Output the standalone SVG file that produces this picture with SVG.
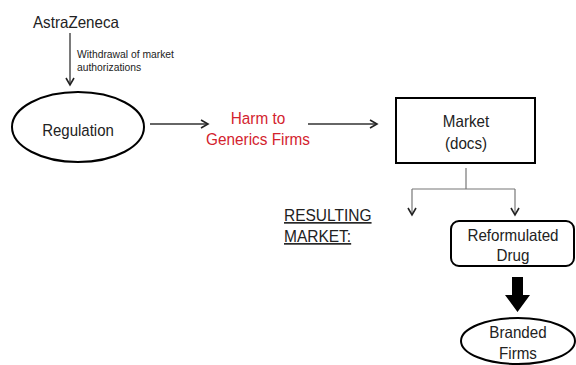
<svg xmlns="http://www.w3.org/2000/svg" width="576" height="365" viewBox="0 0 576 365">
<style>
text{font-family:"Liberation Sans",Arial,sans-serif;fill:#222;}
.t{font-size:16.5px;}
.s{font-size:11px;}
.c{text-anchor:middle;}
.red{fill:#d3232e;}
.ln{stroke:#333;stroke-width:1.3;fill:none;}
.gl{stroke:#777;stroke-width:1.2;fill:none;}
.sh{stroke:#000;stroke-width:2;fill:#fff;}
</style>
<defs>
<marker id="ah" markerWidth="10" markerHeight="10" refX="8" refY="5" orient="auto" markerUnits="userSpaceOnUse">
<path d="M1,1 L8,5 L1,9" fill="none" stroke="#222" stroke-width="1.6"/>
</marker>
</defs>
<g id="astrazeneca"><text class="t" transform="translate(33,27.5) scale(0.92,1)">AstraZeneca</text></g>
<g id="regulation">
<ellipse class="sh" cx="78" cy="127" rx="66" ry="35"/>
<text class="t c" transform="translate(78,136) scale(0.91,1)">Regulation</text>
</g>
<g id="harm">
<text class="t c red" transform="translate(258,124) scale(0.93,1)">Harm to</text>
<text class="t c red" transform="translate(258,145) scale(0.93,1)">Generics Firms</text>
</g>
<g id="market">
<rect class="sh" x="396" y="98" width="139" height="65"/>
<text class="t c" transform="translate(466,127) scale(0.92,1)">Market</text>
<text class="t c" transform="translate(466,149) scale(0.92,1)">(docs)</text>
</g>
<g id="resulting">
<text class="t" transform="translate(284,221) scale(0.94,1)" text-decoration="underline">RESULTING</text>
<text class="t" transform="translate(284,242) scale(0.94,1)" text-decoration="underline">MARKET:</text>
</g>
<g id="reformulated">
<rect class="sh" x="451" y="221" width="123" height="45" rx="8"/>
<text class="t c" transform="translate(513,241) scale(0.92,1)">Reformulated</text>
<text class="t c" transform="translate(513,261) scale(0.92,1)">Drug</text>
</g>
<g id="branded">
<ellipse class="sh" cx="518" cy="341" rx="57" ry="23"/>
<text class="t c" transform="translate(518,338) scale(0.92,1)">Branded</text>
<text class="t c" transform="translate(518,359) scale(0.92,1)">Firms</text>
</g>
<g id="connectors">
<line class="ln" x1="70" y1="33" x2="70" y2="85" marker-end="url(#ah)"/>
<text class="s" transform="translate(77,58) scale(0.94,1)">Withdrawal of market</text>
<text class="s" transform="translate(77,71) scale(0.94,1)">authorizations</text>
<line class="ln" x1="150" y1="124" x2="208" y2="124" marker-end="url(#ah)"/>
<line class="ln" x1="308" y1="124" x2="377" y2="124" marker-end="url(#ah)"/>
<path class="gl" d="M466,168 V189 M412,189 H515"/>
<line class="gl" x1="412" y1="189" x2="412" y2="215" marker-end="url(#ah)"/>
<line class="gl" x1="515" y1="189" x2="515" y2="215" marker-end="url(#ah)"/>
<path d="M512,277 H523 V295 H530 L517.5,312 L505,295 H512 Z" fill="#000"/>
</g>
</svg>
